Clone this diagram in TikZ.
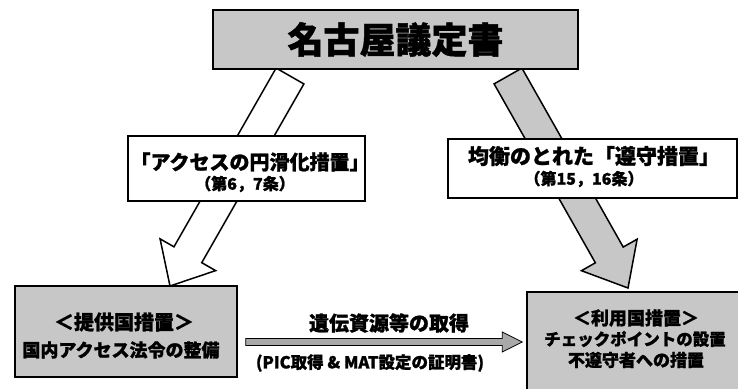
\documentclass[tikz,border=0pt]{standalone}
\usepackage{fontspec}
\setmainfont{Noto Sans CJK JP}[BoldFeatures={FakeBold=1.2}]
\usetikzlibrary{calc,backgrounds}
\definecolor{fillgray}{gray}{0.78}
\tikzset{
  graybox/.style={draw=black, fill=fillgray, line width=1.4pt, inner sep=0pt},
  labelbox/.style={draw=black, fill=white, line width=1.3pt, inner sep=0pt},
  blockarrow/.style={draw=black, line width=1.5pt, line join=miter},
  plaintext/.style={inner sep=0pt, align=center},
  fs/.style={font=\fontsize{#1}{#1}\selectfont\bfseries},
}
\begin{document}
\begin{tikzpicture}[x=1pt,y=-1pt]
\useasboundingbox (0,0) rectangle (738,388);
\clip (0,0) rectangle (738,388);

% boxes
\node[graybox, line width=2.5pt, minimum width=365pt, minimum height=59pt, fs=36] (title) at (395.5,39.5) {名古屋議定書};

\node[labelbox, minimum width=237pt, minimum height=65pt] (acc) at (246.5,168.5) {};
\node[plaintext, fs=20] (acc1) at (250,162) {「アクセスの円滑化措置」};
\node[plaintext, fs=16] (acc2) at (245,184) {（第6，7条）};

\node[labelbox, minimum width=289pt, minimum height=59pt] (comp) at (592.5,168.5) {};
\node[plaintext, fs=21] (comp1) at (594,156) {均衡のとれた「遵守措置」};
\node[plaintext, fs=16] (comp2) at (584,179) {（第15，16条）};

\node[graybox, minimum width=222pt, minimum height=91pt] (prov) at (126,331.5) {};
\node[plaintext, fs=20] (prov1) at (124,322) {＜提供国措置＞};
\node[plaintext, fs=18] (prov2) at (121,350) {国内アクセス法令の整備};

\node[graybox, minimum width=218pt, minimum height=98pt] (user) at (636,341) {};
\node[plaintext, fs=18] (user1) at (636,318) {＜利用国措置＞};
\node[plaintext, fs=16.5] (user2) at (635,339) {チェックポイントの設置};
\node[plaintext, fs=17] (user3) at (636,360) {不遵守者への措置};

\node[plaintext, fs=20] (get) at (389,323) {遺伝資源等の取得};
\node[plaintext, fs=16.5] (cert) at (370,363) {(PIC取得 \& MAT設定の証明書)};

% arrows (behind boxes)
\begin{scope}[on background layer]
  \fill[white] (0,0) rectangle (738,388);

  \coordinate (laS) at (290,76);
  \coordinate (laT) at (170,286);
  \coordinate (laB) at ($(laT)!36pt!(laS)$);
  \draw[blockarrow, fill=white]
    ($(laS)!16pt!90:(laT)$) -- ($(laB)!16pt!90:(laT)$) -- ($(laB)!32pt!90:(laT)$)
    -- (laT) -- ($(laB)!32pt!-90:(laT)$) -- ($(laB)!16pt!-90:(laT)$)
    -- ($(laS)!16pt!-90:(laT)$) -- cycle;

  \coordinate (raS) at (508,76);
  \coordinate (raT) at (628,288);
  \coordinate (raB) at ($(raT)!38pt!(raS)$);
  \draw[blockarrow, fill=fillgray]
    ($(raS)!16pt!90:(raT)$) -- ($(raB)!16pt!90:(raT)$) -- ($(raB)!32pt!90:(raT)$)
    -- (raT) -- ($(raB)!32pt!-90:(raT)$) -- ($(raB)!16pt!-90:(raT)$)
    -- ($(raS)!16pt!-90:(raT)$) -- cycle;
\end{scope}

% horizontal arrow
\coordinate (haS) at ($(prov.east)+(8,10.5)$);
\coordinate (haT) at ($(user.west)+(-4,1)$);
\coordinate (haB) at ($(haT)!20pt!(haS)$);
\draw[blockarrow, line width=0.8pt, fill=fillgray!85!black]
  ($(haS)!3.5pt!90:(haT)$) -- ($(haB)!3.5pt!90:(haT)$) -- ($(haB)!10pt!90:(haT)$)
  -- (haT) -- ($(haB)!10pt!-90:(haT)$) -- ($(haB)!3.5pt!-90:(haT)$)
  -- ($(haS)!3.5pt!-90:(haT)$) -- cycle;
\end{tikzpicture}
\end{document}
